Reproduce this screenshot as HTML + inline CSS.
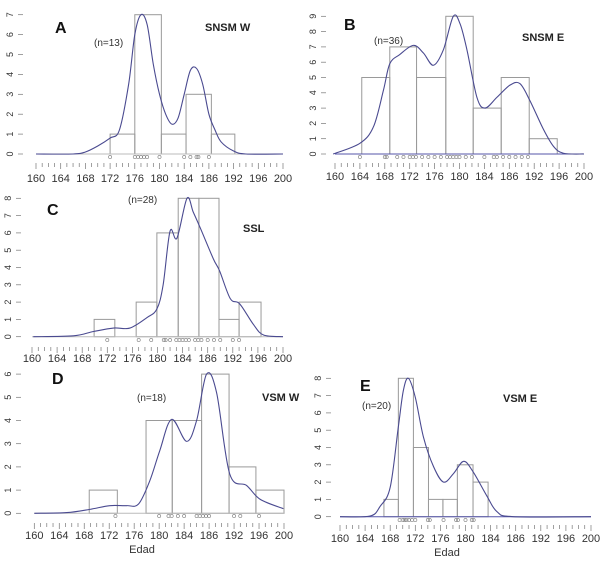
<!DOCTYPE html>
<html><head><meta charset="utf-8">
<style>
html,body{margin:0;padding:0;background:#fff;}
svg{display:block;font-family:"Liberation Sans",sans-serif;}
</style></head>
<body>
<svg id="fig" width="606" height="564" viewBox="0 0 606 564"></svg>
<script>
// ---- Panel data ----
const tickLabels = ["160","164","168","172","176","180","184","186","192","196","200"];

const aBins = [172.0,176.0,180.3,184.3,188.4,192.2];
const aCounts = [1,7,1,3,1];
const aCurveX = [160,166,168,170,172,173.5,175,176,177,178,179,180,181,182,183,184,185,186,187,188,189,190,192,194,200];
const aCurveY = [0,0,0.1,0.4,0.8,1.2,3.5,6,7,6.5,4.5,3,2,1.5,1.8,3,4.2,4.3,3.5,2,1.2,0.6,0.15,0,0];
const aRug = [172,176,176.5,177,177.5,178,180,184,185,186,186.3,188];
const aYTicks = [0,1,2,3,4,5,6,7];

const bBins = [164.3,168.8,173.1,177.8,182.2,186.7,191.2,195.7];
const bCounts = [5,7,5,9,3,5,1];
const bCurveX = [159.7,164.0,166.2,167.8,168.8,170.4,172.6,174.2,175.8,177.4,179.0,180.1,181.2,182.8,184.1,186.0,188.1,189.7,191.3,193.5,195.1,196.7,200];
const bCurveY = [0,0.7,1.8,4.2,5.9,6.5,7.1,6.6,5.8,6.8,9.0,8.5,6.8,3.7,3.0,3.7,4.5,4.6,3.5,1.6,0.5,0.05,0];
const bRug = [164,168,168.3,170,171,172,172.5,173,174,175,176,177,178,178.5,179,179.5,180,181,182,184,185.5,186,187,188,189,190,191];
const bYTicks = [0,1,2,3,4,5,6,7,8,9];

const cBins = [169.9,173.2,176.6,179.9,183.3,186.6,189.8,193.0,196.5];
const cCounts = [1,0,2,6,8,8,1,2];
const cCurveX = [160.2,166.6,169.8,173.0,175.6,178.3,179.9,180.9,182.0,183.1,184.7,185.7,186.8,188.9,189.9,191.6,193.1,195.3,196.9,200];
const cCurveY = [0,0.05,0.3,0.5,0.5,1.1,1.6,3.0,6.1,5.7,8.0,7.2,6.3,4.5,3.8,2.2,1.9,0.7,0.1,0];
const cRug = [172,177,179,181,181.3,182,183,183.5,184,184.5,185,186,186.5,187,188,189,190,192,193];
const cYTicks = [0,1,2,3,4,5,6,7,8];

const dBins = [168.8,173.3,177.9,182.1,186.8,191.2,195.5,200.0];
const dCounts = [1,0,4,4,6,2,1];
const dCurveX = [160,165.2,168.9,172.1,174.8,176.7,178.5,180.1,182.0,184.4,186.0,187.6,189.2,191.3,194.0,196.2,199.9];
const dCurveY = [0,0.03,0.17,0.33,0.33,0.4,1.4,2.7,4.05,3.1,4.0,6.0,5.2,1.7,1.2,0.6,0.2];
const dRug = [173,180,181.5,182,183,184,186,186.5,187,187.5,188,192,193,196];
const dYTicks = [0,1,2,3,4,5,6];

const eBins = [167.0,169.3,171.7,174.1,176.4,178.7,181.2,183.6];
const eCounts = [1,8,4,1,1,3,2];
const eCurveX = [160,164.8,166.4,168.0,169.3,170.1,170.9,172.0,173.3,174.9,176.5,178.1,179.7,181.2,183.4,185.0,187.6,200];
const eCurveY = [0,0.04,0.6,1.7,5.2,7.3,8.0,6.9,4.6,2.9,2.0,2.5,3.2,2.6,1.2,0.3,0,0];
const eRug = [169.5,170,170.3,170.6,171,171.5,172,174,174.3,176.5,178.5,178.8,180,181,181.3];
const eYTicks = [0,1,2,3,4,5,6,7,8];

const panels = [
 {id:"a",letter:"A",title:"SNSM W",n:"(n=13)",bins:aBins,counts:aCounts,cx:aCurveX,cy:aCurveY,rug:aRug,yt:aYTicks,
  x160:36,x200:283,y0:154,yPer:19.9,ax:10,tickY:163,labY:182,rugY:157,
  letterPos:[55,33],titlePos:[205,31],nPos:[94,46],edad:null,base:"#bbb"},
 {id:"b",letter:"B",title:"SNSM E",n:"(n=36)",bins:bBins,counts:bCounts,cx:bCurveX,cy:bCurveY,rug:bRug,yt:bYTicks,
  x160:335,x200:584,y0:154,yPer:15.3,ax:313,tickY:163,labY:180,rugY:157,
  letterPos:[344,30],titlePos:[522,41],nPos:[374,44],edad:null,base:"#5555aa"},
 {id:"c",letter:"C",title:"SSL",n:"(n=28)",bins:cBins,counts:cCounts,cx:cCurveX,cy:cCurveY,rug:cRug,yt:cYTicks,
  x160:32,x200:283,y0:336.7,yPer:17.3,ax:8,tickY:347,labY:362,rugY:340,
  letterPos:[47,215],titlePos:[243,232],nPos:[128,203],edad:null,base:"#bbb"},
 {id:"d",letter:"D",title:"VSM W",n:"(n=18)",bins:dBins,counts:dCounts,cx:dCurveX,cy:dCurveY,rug:dRug,yt:dYTicks,
  x160:34.3,x200:284,y0:513.3,yPer:23.2,ax:8,tickY:523,labY:539,rugY:516,
  letterPos:[52,384],titlePos:[262,401],nPos:[137,401],edad:[142,553],base:"#bbb"},
 {id:"e",letter:"E",title:"VSM E",n:"(n=20)",bins:eBins,counts:eCounts,cx:eCurveX,cy:eCurveY,rug:eRug,yt:eYTicks,
  x160:340,x200:591,y0:516.7,yPer:17.3,ax:318,tickY:525,labY:542,rugY:520,
  letterPos:[360,391],titlePos:[503,402],nPos:[362,409],edad:[447,556],base:"#5555aa"}
];

const NS="http://www.w3.org/2000/svg";
const svg=document.getElementById("fig");
function mk(tag,attrs,parent){const e=document.createElementNS(NS,tag);for(const k in attrs)e.setAttribute(k,attrs[k]);(parent||svg).appendChild(e);return e;}

panels.forEach(p=>{
  const g=mk("g",{});
  
  
  const xs=v=>p.x160+(v-160)*(p.x200-p.x160)/40;
  const ys=v=>p.y0-v*p.yPer;
  // bars
  p.counts.forEach((c,i)=>{
    if(c<=0) return;
    const x0=xs(p.bins[i]),x1=xs(p.bins[i+1]);
    const r=mk("rect",{x:x0,y:ys(c),width:x1-x0,height:p.y0-ys(c),fill:"none",stroke:"#9a9a9a","stroke-width":1},g);
    
    
  });
  // baseline
  const bl=mk("line",{x1:xs(160),x2:xs(200),y1:p.y0,y2:p.y0,stroke:p.base,"stroke-width":1},g);
  
  
  // curve (smoothed)
  const pts=p.cx.map((v,i)=>[xs(v),ys(p.cy[i])]);
  let d="M"+pts[0][0]+","+pts[0][1];
  for(let i=0;i<pts.length-1;i++){
    const p0=pts[Math.max(0,i-1)],p1=pts[i],p2=pts[i+1],p3=pts[Math.min(pts.length-1,i+2)];
    const c1=[p1[0]+(p2[0]-p0[0])/6,p1[1]+(p2[1]-p0[1])/6];
    const c2=[p2[0]-(p3[0]-p1[0])/6,p2[1]-(p3[1]-p1[1])/6];
    d+=" C"+c1[0]+","+c1[1]+" "+c2[0]+","+c2[1]+" "+p2[0]+","+p2[1];
  }
  const cv=mk("path",{d:d,fill:"none",stroke:"#4a4a90","stroke-width":1.1},g);
  
  
  // rug
  p.rug.forEach((v,i)=>{
    const c=mk("circle",{cx:xs(v),cy:p.rugY,r:1.6,fill:"none",stroke:"#777","stroke-width":0.6},g);
    
    
  });
  // x ticks
  for(let v=160;v<=200;v++){
    const maj=(v%4===0);
    const t=mk("line",{x1:xs(v),x2:xs(v),y1:p.tickY,y2:p.tickY+(maj?6:4),stroke:"#777","stroke-width":0.7},g);
    
    
  }
  tickLabels.forEach((lab,i)=>{
    const t=mk("text",{x:xs(160+4*i),y:p.labY,"font-size":11,fill:"#333","text-anchor":"middle"},g);
    t.textContent=lab;
    
    
  });
  // y ticks
  p.yt.forEach(v=>{
    const t=mk("line",{x1:p.ax+8,x2:p.ax+13,y1:ys(v),y2:ys(v),stroke:"#777","stroke-width":0.7},g);
    
    
    const l=mk("text",{x:0,y:0,"font-size":9,fill:"#333","text-anchor":"middle",transform:"translate("+(p.ax+3)+","+ys(v)+") rotate(-90)"},g);
    l.textContent=String(v);
    
    
  });
  // labels
  const L=mk("text",{x:p.letterPos[0],y:p.letterPos[1],"font-size":16,"font-weight":"bold",fill:"#111"},g);
  L.textContent=p.letter;
  
  
  const T=mk("text",{x:p.titlePos[0],y:p.titlePos[1],"font-size":11,"font-weight":"bold",fill:"#222"},g);
  T.textContent=p.title;
  
  
  const N=mk("text",{x:p.nPos[0],y:p.nPos[1],"font-size":10,fill:"#333"},g);
  N.textContent=p.n;
  
  
  if(p.edad){
    const E=mk("text",{x:p.edad[0],y:p.edad[1],"font-size":11,fill:"#333","text-anchor":"middle"},g);
    E.textContent="Edad";
    
    
  }
});
</script>
</body></html>
